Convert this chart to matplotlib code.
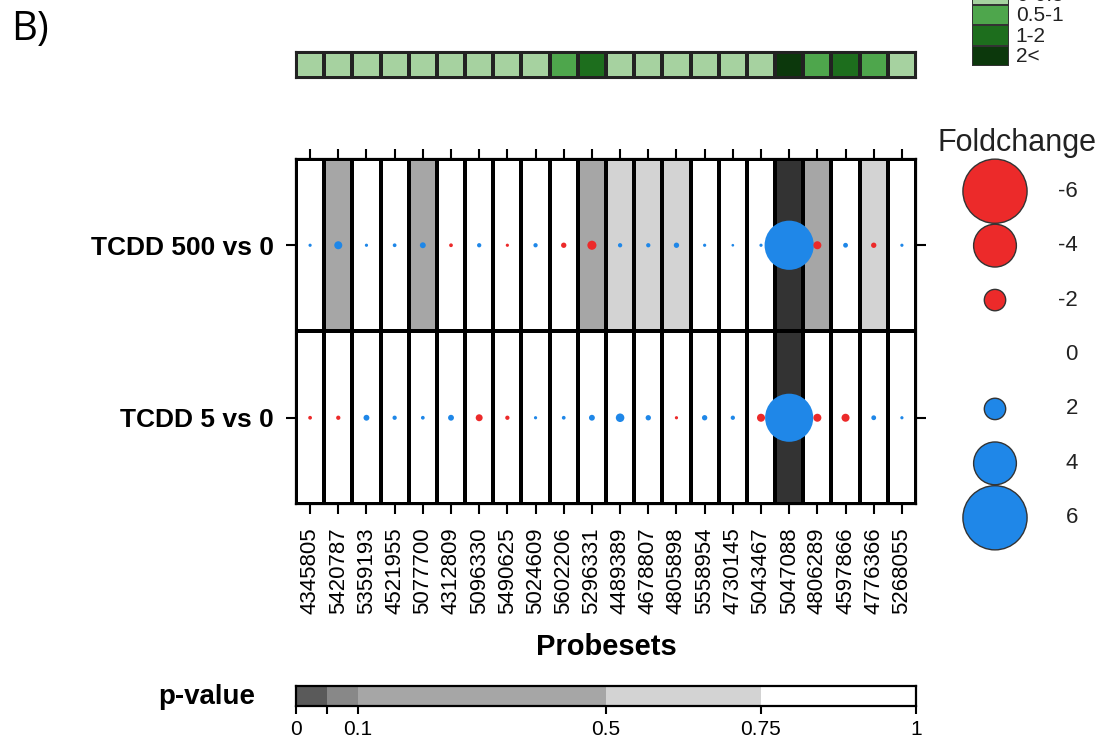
import numpy as np
import matplotlib
matplotlib.use("Agg")
import matplotlib.pyplot as plt
from matplotlib.colors import ListedColormap, BoundaryNorm

plt.rcParams['font.family'] = ['Liberation Sans', 'DejaVu Sans']

# data
probesets = ["4345805", "5420787", "5359193", "4521955", "5077700", "4312809",
             "5096330", "5490625", "5024609", "5602206", "5296331", "4489389",
             "4678807", "4805898", "5558954", "4730145", "5043467", "5047088",
             "4806289", "4597866", "4776366", "5268055"]
contrasts = ["TCDD 500 vs 0", "TCDD 5 vs 0"]

fc_500 = [0.3, 0.75, 0.3, 0.35, 0.55, -0.35, 0.4, -0.3, 0.4, -0.5, -0.85,
          0.4, 0.4, 0.5, 0.3, 0.25, 0.3, 4.6, -0.75, 0.45, -0.5, 0.3]
fc_5 = [-0.35, -0.4, 0.55, 0.4, 0.35, 0.55, -0.65, -0.4, 0.3, 0.35, 0.55,
        0.8, 0.5, -0.3, 0.5, 0.4, -0.75, 4.5, -0.75, -0.75, 0.45, 0.3]

p_500 = [0.9, 0.3, 0.9, 0.9, 0.3, 0.9, 0.9, 0.9, 0.9, 0.9, 0.3,
         0.6, 0.6, 0.6, 0.9, 0.9, 0.9, 0.01, 0.3, 0.9, 0.6, 0.9]
p_5 = [0.9, 0.9, 0.9, 0.9, 0.9, 0.9, 0.9, 0.9, 0.9, 0.9, 0.9,
       0.9, 0.9, 0.9, 0.9, 0.9, 0.9, 0.01, 0.9, 0.9, 0.9, 0.9]

# green strip on top (binned value per probeset)
strip_vals = [0.3, 0.3, 0.3, 0.3, 0.3, 0.3, 0.3, 0.3, 0.3, 0.7, 1.5,
              0.3, 0.3, 0.3, 0.3, 0.3, 0.3, 2.5, 0.7, 1.5, 0.7, 0.3]
strip_bins = [0, 0.5, 1, 2, 10]
strip_labels = ["0-0.5", "0.5-1", "1-2", "2<"]
strip_colors = ["#a6d2a0", "#4ea64c", "#1d6e1d", "#0c380c"]

p_bins = [0, 0.05, 0.1, 0.5, 0.75, 1]
p_cell_colors = ["#333333", "#888888", "#a6a6a6", "#d3d3d3", "#ffffff"]
p_bar_colors = ["#5a5a5a", "#888888", "#a6a6a6", "#d3d3d3", "#ffffff"]
p_ticks = [0, 0.05, 0.1, 0.5, 0.75, 1]
p_ticklabels = ["0", "", "0.1", "0.5", "0.75", "1"]

legend_fc = [-6, -4, -2, 0, 2, 4, 6]

RED = "#ec2a2a"
BLUE = "#1f87e8"

W, H = 1111, 744
fig = plt.figure(figsize=(W / 100, H / 100), dpi=100)


def rect(x0, y0, x1, y1):
    return [x0 / W, 1 - y1 / H, (x1 - x0) / W, (y1 - y0) / H]


def size_of(fc):
    # marker diameter grows linearly with |foldchange|
    return (7.7 * np.abs(np.asarray(fc))) ** 2


n = len(probesets)
xs = np.arange(n)

# main panel
ax = fig.add_axes(rect(296, 159, 916, 504))
pvals = np.array([p_500, p_5])
cmap = ListedColormap(p_cell_colors)
norm = BoundaryNorm(p_bins, cmap.N)
ax.pcolormesh(np.arange(n + 1) - 0.5, np.arange(3) - 0.5, pvals, cmap=cmap, norm=norm,
              edgecolors="black", linewidth=1.6)
for row, fc in enumerate([fc_500, fc_5]):
    fc = np.array(fc)
    cols = np.where(fc < 0, RED, BLUE)
    ax.scatter(xs, np.full(n, row), s=size_of(fc), c=cols, linewidths=0, zorder=3)
ax.set_xlim(-0.5, n - 0.5)
ax.set_ylim(1.5, -0.5)
ax.set_xticks(xs)
ax.set_xticklabels(probesets, rotation=90, fontsize=16)
ax.set_yticks([0, 1])
ax.set_yticklabels(contrasts, fontsize=19, fontweight="bold")
ax.tick_params(axis="x", top=True, bottom=True, direction="out", length=7, width=1.5, pad=10)
ax.tick_params(axis="y", left=True, right=True, direction="out", length=7, width=1.5, pad=9)
for sp in ax.spines.values():
    sp.set_linewidth(1.6)
fig.text(606 / W, 1 - 647 / H, "Probesets", ha="center", va="center",
         fontsize=21, fontweight="bold")

# green strip
ax_s = fig.add_axes(rect(296, 52, 916, 78))
scmap = ListedColormap(strip_colors)
snorm = BoundaryNorm(strip_bins, scmap.N)
ax_s.pcolormesh(np.arange(n + 1) - 0.5, [0, 1], [strip_vals], cmap=scmap, norm=snorm,
                edgecolors="#222222", linewidth=1.5)
ax_s.set_xlim(-0.5, n - 0.5)
ax_s.set_xticks([])
ax_s.set_yticks([])
for sp in ax_s.spines.values():
    sp.set_linewidth(1.5)
    sp.set_color("#222222")

# green legend, top right (partly cut off by the figure edge, as in the source)
ax_g = fig.add_axes(rect(972, -16, 1009, 66))
ax_g.pcolormesh([0, 1], np.arange(len(strip_colors) + 1), np.arange(len(strip_colors)).reshape(-1, 1),
                cmap=ListedColormap(strip_colors), edgecolors="#333333", linewidth=1.2)
ax_g.set_ylim(len(strip_colors), 0)
ax_g.set_xlim(0, 1)
ax_g.axis("off")
for i, lab in enumerate(strip_labels):
    ax_g.text(1.18, i + 0.55, lab, ha="left", va="center", fontsize=15, color="#222222",
              clip_on=False)

# p-value bar
ax_p = fig.add_axes(rect(296, 686, 916, 706))
ax_p.pcolormesh(p_bins, [0, 1], [np.array(p_bins[:-1]) + 0.01], cmap=ListedColormap(p_bar_colors),
                norm=BoundaryNorm(p_bins, len(p_bar_colors)))
ax_p.set_xlim(0, 1)
ax_p.set_yticks([])
ax_p.set_xticks(p_ticks)
ax_p.set_xticklabels(p_ticklabels, fontsize=15)
ax_p.tick_params(axis="x", direction="out", length=6, width=1.5, pad=4)
for sp in ax_p.spines.values():
    sp.set_linewidth(1.6)
fig.text(255 / W, 1 - 697 / H, "p-value", ha="right", va="center", fontsize=20, fontweight="bold")

# foldchange legend
ax_l = fig.add_axes(rect(940, 164, 1100, 545))
ly = np.arange(len(legend_fc))
lfc = np.array(legend_fc)
ax_l.scatter(np.full(len(lfc), 55), ly, s=size_of(lfc), c=np.where(lfc < 0, RED, BLUE),
             edgecolors="#333333", linewidths=1.0, clip_on=False)
for y, v in zip(ly, legend_fc):
    ax_l.text(138, y, str(v), ha="right", va="center", fontsize=16, color="#222222")
ax_l.set_xlim(0, 160)
ax_l.set_ylim(len(lfc) - 0.5, -0.5)
ax_l.axis("off")
fig.text(1017 / W, 1 - 143 / H, "Foldchange", ha="center", va="center", fontsize=22, color="#222222")

fig.text(11 / W, 1 - 30 / H, "B)", ha="left", va="center", fontsize=29,
         family=["Open Sans", "DejaVu Sans"])

fig.savefig("out.png", dpi=100)
